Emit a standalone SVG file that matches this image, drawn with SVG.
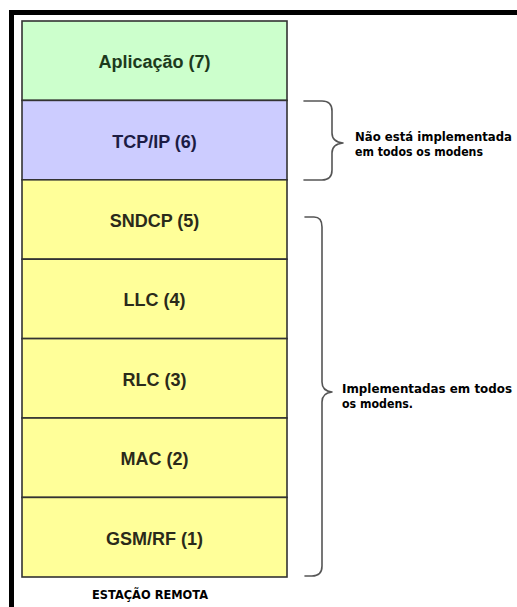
<svg xmlns="http://www.w3.org/2000/svg" width="517" height="607" viewBox="0 0 517 607">
<style>
.layer{stroke:#333;stroke-width:1.6}
.lbl{font-family:"Liberation Sans",Arial,sans-serif;font-weight:bold;font-size:18px;text-anchor:middle}
.note{font-family:"DejaVu Sans",sans-serif;font-weight:bold;font-size:12px;fill:#000}
.cap{font-family:"DejaVu Sans",sans-serif;font-weight:bold;font-size:13px;fill:#000}
.brace{fill:none;stroke:#555;stroke-width:1.6;stroke-linecap:round;stroke-linejoin:round}
</style>
<rect x="0" y="0" width="517" height="607" fill="#fff"/>
<g id="frame">
<rect x="9" y="10" width="508" height="5" fill="#000"/>
<rect x="9" y="10" width="5" height="597" fill="#000"/>
</g>
<g id="layer7"><rect class="layer" x="22" y="21" width="265" height="79.4" fill="#ccffcc"/><text class="lbl" x="154.5" y="68" fill="#1c3a1c">Aplicação (7)</text></g>
<g id="layer6"><rect class="layer" x="22" y="100.4" width="265" height="79.4" fill="#ccccff"/><text class="lbl" x="154.5" y="148" fill="#1c1c44">TCP/IP (6)</text></g>
<g id="layer5"><rect class="layer" x="22" y="179.8" width="265" height="79.4" fill="#ffff99"/><text class="lbl" x="154.5" y="226.5" fill="#2a2a1a">SNDCP (5)</text></g>
<g id="layer4"><rect class="layer" x="22" y="259.2" width="265" height="79.4" fill="#ffff99"/><text class="lbl" x="154.5" y="306" fill="#2a2a1a">LLC (4)</text></g>
<g id="layer3"><rect class="layer" x="22" y="338.6" width="265" height="79.4" fill="#ffff99"/><text class="lbl" x="154.5" y="385.5" fill="#2a2a1a">RLC (3)</text></g>
<g id="layer2"><rect class="layer" x="22" y="418" width="265" height="79.4" fill="#ffff99"/><text class="lbl" x="154.5" y="465" fill="#2a2a1a">MAC (2)</text></g>
<g id="layer1"><rect class="layer" x="22" y="497.4" width="265" height="79.6" fill="#ffff99"/><text class="lbl" x="154.5" y="544.5" fill="#2a2a1a">GSM/RF (1)</text></g>
<g id="connectors">
<path class="brace" d="M304,101 L322,101 Q332,101 332,111 L332,133 Q332,142 343,143 Q332,144 332,153 L332,170 Q332,180 322,180 L304,180"/>
<path class="brace" d="M305,217 L314,217 Q322,217 322,227 L322,382 Q322,391 332,392 Q322,393 322,402 L322,566 Q322,576 312,576 L305,576"/>
</g>
<g id="note1">
<text class="note" x="355" y="141" textLength="157" lengthAdjust="spacingAndGlyphs">Não está implementada</text>
<text class="note" x="355" y="156" textLength="128" lengthAdjust="spacingAndGlyphs">em todos os modens</text>
</g>
<g id="note2">
<text class="note" x="342" y="393" textLength="170" lengthAdjust="spacingAndGlyphs">Implementadas em todos</text>
<text class="note" x="342" y="408" textLength="71" lengthAdjust="spacingAndGlyphs">os modens.</text>
</g>
<g id="caption"><text class="cap" x="92" y="599" textLength="116" lengthAdjust="spacingAndGlyphs">ESTAÇÃO REMOTA</text></g>
</svg>
